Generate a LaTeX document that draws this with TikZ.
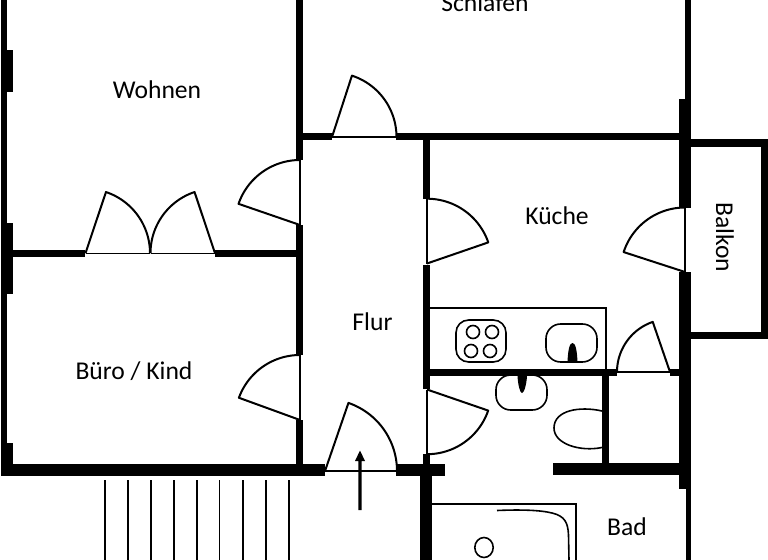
\documentclass[tikz,border=0pt]{standalone}
\usepackage{fontspec}
\setmainfont{Carlito}
\tikzset{
  label text/.style={font=\fontsize{19.2}{22}\selectfont, text=black, inner sep=0pt},
  thick line/.style={draw=black, line width=1.5pt},
  thin line/.style={draw=black, line width=1pt},
  fixture/.style={draw=black, line width=1.2pt}
}
\newcommand{\wallbox}[4]{\fill[black] (#1,#2) rectangle (#3,#4);}
\newcommand{\doorswing}[5]{%
  \draw[thick line, line join=round] plot[domain=#4:#5, samples=40, variable=\t] ({#1+#3*cos(\t)},{#2+#3*sin(\t)}) -- (#1,#2);
  \draw[thin line] (#1,#2) -- ({#1+#3*cos(#4)},{#2+#3*sin(#4)});}
\begin{document}
\begin{tikzpicture}[x=0.75pt,y=-0.75pt]
\useasboundingbox (0,0) rectangle (768,560);
\clip (0,0) rectangle (768,560);
\fill[white] (0,0) rectangle (768,560);
% outer left wall
\wallbox{1.5}{0}{7}{475.5}
\wallbox{1.5}{50}{13}{92}
\wallbox{1.5}{223}{13}{294}
\wallbox{1.5}{443}{13}{475.5}
% bottom wall
\wallbox{1.5}{463.5}{324.5}{475.5}
\wallbox{396}{464}{445}{475.5}
% Wohnen / Flur wall
\wallbox{296}{0}{303}{160}
\wallbox{296}{225}{303}{355}
\wallbox{296}{420}{303}{464}
% Wohnen / Buero wall
\wallbox{13}{249.5}{85}{256.5}
\wallbox{215}{249.5}{296}{256.5}
% Schlafen bottom
\wallbox{303}{133}{331.5}{140}
\wallbox{396}{133}{680}{140}
% right wall
\wallbox{685}{0}{691}{99}
\wallbox{679}{99}{691}{207.5}
\wallbox{679}{272}{691}{489}
\wallbox{686}{489}{691}{560}
% Flur / Kueche wall
\wallbox{423}{140}{430}{199}
\wallbox{423}{265}{430}{389}
\wallbox{423}{454}{430}{464}
\wallbox{420}{464}{432}{560}
% Kueche bottom
\wallbox{430}{369}{617}{376}
\wallbox{670}{369}{679}{376}
% bath walls
\wallbox{602}{376}{609}{464}
\wallbox{553}{463}{679}{475}
% balcony
\wallbox{691}{139.5}{768}{146.5}
\wallbox{761}{139.5}{768}{339}
\wallbox{691}{332}{768}{339}
% doors
\doorswing{300}{225}{65}{-90}{-161}
\doorswing{300}{420}{65}{-90}{-160}
\doorswing{325}{471}{72}{0}{-71}
\doorswing{332}{137}{64.5}{0}{-72}
\doorswing{85.5}{253.2}{64.5}{0}{-71.5}
\doorswing{215}{253.2}{64.5}{-180}{-108.5}
\doorswing{427}{263.5}{64.8}{-90}{-19}
\doorswing{685}{272}{64.5}{-90}{-162}
\doorswing{670}{372}{53}{-180}{-109}
\doorswing{427}{389.5}{64.7}{90}{19}
% kitchen counter
\draw[fixture] (430,308) -- (606,308) -- (606,369);
% hob
\draw[fixture, rounded corners=9.5pt] (456,320) rectangle (506,362);
\draw[fixture] (473,332) circle[radius=6.5];
\draw[fixture] (492,332) circle[radius=6.5];
\draw[fixture] (471,351) circle[radius=6.5];
\draw[fixture] (490,351) circle[radius=6.5];
% kitchen sink
\draw[fixture, rounded corners=11pt] (546,324) rectangle (597,362);
\fill[black] (567.5,362) .. controls (568,350) and (569.5,343) .. (572.5,343) .. controls (575.5,343) and (577,350) .. (577.5,362) -- cycle;
% bath sink
\draw[fixture, rounded corners=11pt] (496,375) rectangle (547,410);
\fill[black] (517.5,376) .. controls (518,385) and (520,393) .. (522,393) .. controls (524,393) and (526.5,385) .. (527,376) -- cycle;
% toilet
\draw[fixture] (602,411) .. controls (580,406) and (554,410) .. (554,428) .. controls (554,444) and (580,452) .. (602,447.5);
% bath tub
\draw[thin line] (432,504) -- (576,504) -- (576,560);
\draw[fixture] (497,510.5) .. controls (520,509.5) and (540,510) .. (552,513) .. controls (565,516) and (568,523) .. (568.5,535) -- (569,560);
\draw[fixture] (484,547.5) ellipse[x radius=9.2, y radius=10];
% stairs
\foreach \sx in {105,128,151,173.7,196.7,219.3,242.7,265.7,288.7}
  \draw[thick line, line width=1.2pt] (\sx,480) -- (\sx,560);
% entrance arrow
\fill[black] (358.3,510) -- (358.3,461) -- (355,461) -- (360,450.5) -- (365,461) -- (361.7,461) -- (361.7,510) -- cycle;
% labels
\node[label text] (wohnen) at (157,90) {Wohnen};
\node[label text] (schlafen) at (485,3) {Schlafen};
\node[label text] (kueche) at (557,216) {Küche};
\node[label text] (flur) at (372.5,322) {Flur};
\node[label text] (buero) at (134,371) {Büro / Kind};
\node[label text] (bad) at (627,527) {Bad};
\node[label text, rotate=-90] (balkon) at (725,237.5) {Balkon};
\end{tikzpicture}
\end{document}
